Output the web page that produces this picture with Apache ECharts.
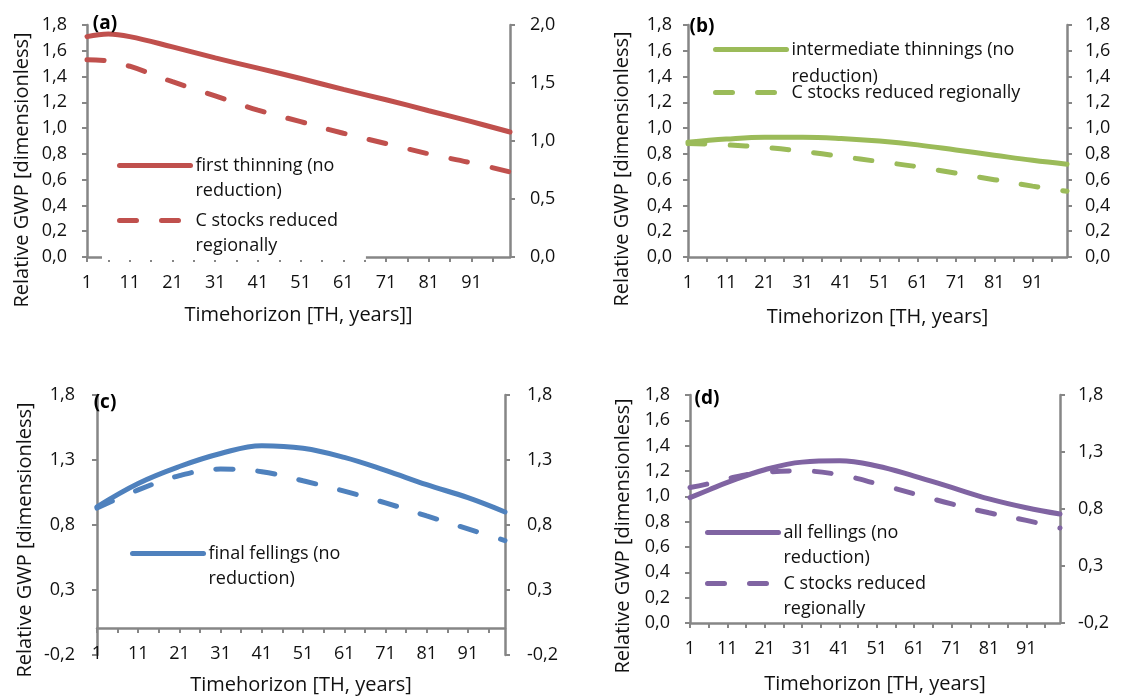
<!DOCTYPE html>
<html><head><meta charset="utf-8">
<script src="https://cdn.jsdelivr.net/npm/echarts@6/dist/echarts.min.js"></script>
<style>html,body{margin:0;padding:0;background:#fff}#c{width:1123px;height:698px}</style>
</head><body><div id="c"></div>
<script>
// ---- categories (time horizon, years) ----
const years = [];
for (let y = 1; y <= 100; y++) years.push(String(y));

// ---- panel (a): first thinning ----
const aYears = [1, 6, 11, 21, 31, 41, 51, 61, 71, 81, 91, 100];
const aSolid = [1.71, 1.73, 1.71, 1.63, 1.545, 1.465, 1.385, 1.30, 1.22, 1.135, 1.05, 0.97];
const aDashed = [1.53, 1.52, 1.48, 1.36, 1.25, 1.14, 1.05, 0.96, 0.88, 0.80, 0.73, 0.66];

// ---- panel (b): intermediate thinnings ----
const bYears = [1, 11, 21, 31, 41, 51, 61, 71, 81, 91, 100];
const bSolid = [0.89, 0.915, 0.93, 0.93, 0.92, 0.90, 0.87, 0.83, 0.79, 0.75, 0.72];
const bDashed = [0.88, 0.87, 0.85, 0.82, 0.78, 0.74, 0.70, 0.65, 0.60, 0.55, 0.51];

// ---- panel (c): final fellings ----
const cYears = [1, 11, 21, 31, 41, 51, 61, 71, 81, 91, 100];
const cSolid = [0.94, 1.12, 1.25, 1.35, 1.41, 1.39, 1.32, 1.22, 1.11, 1.01, 0.90];
const cDashed = [0.93, 1.07, 1.18, 1.23, 1.21, 1.14, 1.06, 0.97, 0.87, 0.77, 0.68];

// ---- panel (d): all fellings ----
const dYears = [1, 6, 11, 21, 31, 41, 51, 61, 71, 81, 91, 100];
const dSolid = [0.99, 1.05, 1.11, 1.21, 1.27, 1.28, 1.24, 1.16, 1.07, 0.98, 0.91, 0.86];
const dDashed = [1.07, 1.10, 1.14, 1.19, 1.20, 1.17, 1.10, 1.02, 0.94, 0.87, 0.81, 0.75];

// ---- axis ranges [min, max, interval] ----
const yLeftA = [0, 1.8, 0.2], yRightA = [0, 2.0, 0.5];
const yLeftB = [0, 1.8, 0.2], yRightB = [0, 1.8, 0.2];
const yLeftC = [-0.2, 1.8, 0.5], yRightC = [-0.2, 1.8, 0.5];
const yLeftD = [0, 1.8, 0.2], yRightD = [-0.2, 1.8, 0.5];

// ---- texts ----
const panelLabels = ['(a)', '(b)', '(c)', '(d)'];
const yTitle = 'Relative GWP [dimensionless]';
const xTitles = ['Timehorizon [TH, years]]', 'Timehorizon [TH, years]', 'Timehorizon [TH, years]', 'Timehorizon [TH, years]'];
const seriesNames = {
  a1: 'first thinning (no reduction)', a2: 'C stocks reduced regionally (a)',
  b1: 'intermediate thinnings (no reduction)', b2: 'C stocks reduced regionally (b)',
  c1: 'final fellings (no reduction)', c2: 'C stocks reduced regionally (c)',
  d1: 'all fellings (no reduction)', d2: 'C stocks reduced regionally (d)'
};
const legendText = {};
legendText[seriesNames.a1] = '\nfirst thinning (no\nreduction)';
legendText[seriesNames.a2] = '\nC stocks reduced\nregionally';
legendText[seriesNames.b1] = '\nintermediate thinnings (no\nreduction)';
legendText[seriesNames.b2] = 'C stocks reduced regionally';
legendText[seriesNames.c1] = '\nfinal fellings (no\nreduction)';
legendText[seriesNames.d1] = '\nall fellings (no\nreduction)';
legendText[seriesNames.d2] = '\nC stocks reduced\nregionally';

const colors = ['#C0504D', '#9BBB59', '#4F81BD', '#8064A2'];

// ---- helpers ----
const FONT = 'Open Sans';
const AX = '#868686';
const TXT = '#111';
const fmt = v => v.toFixed(1).replace('.', ',');
const pairs = (xs, vs) => xs.map((x, i) => [String(x), vs[i]]);

function xAxis(g, name, nameGap, offset) {
  return {
    type: 'category', gridIndex: g, data: years, boundaryGap: false, offset: offset || 0,
    axisLine: { show: true, onZero: false, lineStyle: { color: AX, width: 2.5 } },
    axisTick: { show: true, interval: 4, length: 5, lineStyle: { color: AX, width: 2 } },
    axisLabel: { interval: 9, margin: 17, color: TXT, fontSize: 18, fontFamily: FONT },
    splitLine: { show: false },
    name: name, nameLocation: 'middle', nameGap: nameGap,
    nameTextStyle: { color: TXT, fontSize: 20, fontFamily: FONT }
  };
}
function yAxis(g, pos, r, margin, name, nameGap, shift) {
  const o = {
    type: 'value', gridIndex: g, position: pos, min: r[0], max: r[1], interval: r[2],
    axisLine: { show: true, onZero: false, lineStyle: { color: AX, width: 2.5 } },
    axisTick: { show: true, length: 5, lineStyle: { color: AX, width: 2 } },
    axisLabel: { formatter: fmt, margin: margin, color: TXT, fontSize: 18, fontFamily: FONT },
    splitLine: { show: false }
  };
  if (name) {
    o.name = name; o.nameLocation = 'middle'; o.nameGap = nameGap;
    o.nameTextStyle = { color: TXT, fontSize: 20, fontFamily: FONT, padding: [0, shift, 0, 0] };
  }
  return o;
}
function line(name, xi, yi, data, color, dashed) {
  return {
    type: 'line', name: name, xAxisIndex: xi, yAxisIndex: yi, data: data,
    smooth: 0.4, symbol: 'none', z: 2, silent: true,
    itemStyle: { color: color },
    lineStyle: { color: color, width: 5, cap: 'round', type: dashed ? [17, 25] : 'solid' }
  };
}
function legend(names, left, top, gap, extra, lh) {
  return Object.assign({
    orient: 'vertical', left: left, top: top, data: names, itemWidth: 71, itemHeight: 10,
    itemGap: gap, padding: 0, selectedMode: false, z: 1,
    itemStyle: { opacity: 0 },
    lineStyle: { width: 5, cap: 'round' },
    formatter: n => legendText[n],
    textStyle: { color: TXT, fontSize: 18, lineHeight: lh || 25, fontFamily: FONT }
  }, extra || {});
}

const option = {
  animation: false,
  backgroundColor: '#fff',
  textStyle: { fontFamily: FONT },
  grid: [
    { left: 87, right: 1123 - 510, top: 25, bottom: 698 - 257, outerBoundsMode: 'none' },
    { left: 688, right: 1123 - 1067, top: 25, bottom: 698 - 257, outerBoundsMode: 'none' },
    { left: 97, right: 1123 - 505, top: 395, bottom: 698 - 655, outerBoundsMode: 'none' },
    { left: 690, right: 1123 - 1060, top: 395, bottom: 698 - 623, outerBoundsMode: 'none' }
  ],
  xAxis: [
    xAxis(0, xTitles[0], 48),
    xAxis(1, xTitles[1], 50),
    xAxis(2, xTitles[2], 47, -27),
    xAxis(3, xTitles[3], 51)
  ],
  yAxis: [
    yAxis(0, 'left', yLeftA, 20, yTitle, 55, 58),
    yAxis(0, 'right', yRightA, 20),
    yAxis(1, 'left', yLeftB, 16, yTitle, 56, 56),
    yAxis(1, 'right', yRightB, 18),
    yAxis(2, 'left', yLeftC, 22, yTitle, 62, 30),
    yAxis(2, 'right', yRightC, 22),
    yAxis(3, 'left', yLeftD, 20, yTitle, 57, 54),
    yAxis(3, 'right', yRightD, 18)
  ],
  legend: [
    legend([seriesNames.a1, seriesNames.a2], 102, 124, -20,
      { padding: [4, 28, 2, 15], backgroundColor: '#fff' }),
    legend([seriesNames.b1, seriesNames.b2], 713, 9, -11, null, 27),
    legend([seriesNames.c1], 130, 516, 0),
    legend([seriesNames.d1, seriesNames.d2], 705, 495, -24)
  ],
  series: [
    line(seriesNames.a1, 0, 0, pairs(aYears, aSolid), colors[0], false),
    line(seriesNames.a2, 0, 0, pairs(aYears, aDashed), colors[0], true),
    line(seriesNames.b1, 1, 2, pairs(bYears, bSolid), colors[1], false),
    line(seriesNames.b2, 1, 2, pairs(bYears, bDashed), colors[1], true),
    line(seriesNames.c1, 2, 4, pairs(cYears, cSolid), colors[2], false),
    line(seriesNames.c2, 2, 4, pairs(cYears, cDashed), colors[2], true),
    line(seriesNames.d1, 3, 6, pairs(dYears, dSolid), colors[3], false),
    line(seriesNames.d2, 3, 6, pairs(dYears, dDashed), colors[3], true)
  ],
  graphic: [
    [105, 24], [702, 27], [105, 403], [707, 399]
  ].map((p, i) => ({
    type: 'text', x: p[0], y: p[1], z: 10, silent: true,
    style: { text: panelLabels[i], fill: '#000', font: 'bold 19px "Open Sans"',
             align: 'center', verticalAlign: 'middle' }
  }))
};

const chart = echarts.init(document.getElementById('c'), null, { renderer: 'canvas' });
chart.setOption(option);
</script>
</body></html>
